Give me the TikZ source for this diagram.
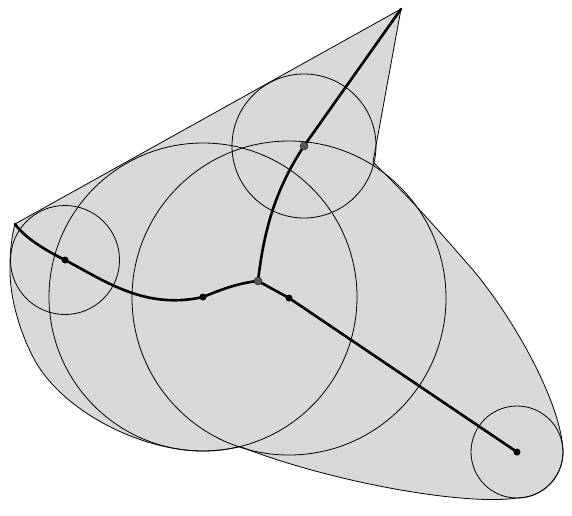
\documentclass[tikz,border=0pt]{standalone}
\usepackage{tikz,color}
\begin{document}
\begin{tikzpicture}[x=1pt,y=-1pt,
	ring/.style={line width=0.8pt},
	bone/.style={line width=2.6pt, line cap=round, line join=round},
	hub/.style={fill=black!65, draw=black!85, line width=0.5pt}]
\useasboundingbox (0,0) rectangle (572,515);
\coordinate (L) at (15,224);
\coordinate (T) at (401,9);
\coordinate (A) at (65,260);
\coordinate (B) at (203,297);
\coordinate (J) at (258,281);
\coordinate (C) at (304,146);
\coordinate (D) at (289,298);
\coordinate (E) at (517,452);
\filldraw [fill=black!15, line width=0.8pt, line join=round] (L) -- (T) -- (373,162)
	.. controls (410,198) and (440,232) .. (473,270)
	.. controls (515,320) and (562,405) .. (563,452)
	.. controls (563,477.4) and (542.4,498) .. (517,498)
	.. controls (465,506) and (330,482) .. (240,446.5)
	.. controls (228,449.5) and (215,451) .. (203,451)
	.. controls (140,451) and (60,410) .. (33,357)
	.. controls (19,330) and (9,295) .. (10,265)
	.. controls (10,250) and (12,235) .. (L) -- cycle;
\draw [ring] (A) circle [radius=54.5];
\draw [ring] (B) circle [radius=154];
\draw [ring] (D) circle [radius=157];
\draw [ring] (C) circle [radius=72];
\draw [ring] (E) circle [radius=46];
\draw [bone] (L) .. controls (25,238) and (45,250) .. (A)
	.. controls (105,281) and (145,310) .. (B)
	.. controls (220,290) and (238,283) .. (J);
\draw [bone] (J) .. controls (264,230) and (275,190) .. (C) -- (T);
\draw [bone] (J) -- (D) -- (E);
\foreach \p in {A,B,D,E}
	\fill (\p) circle [radius=3.5];
\foreach \p in {J,C}
	\filldraw [hub] (\p) circle [radius=4];
\end{tikzpicture}
\end{document}
